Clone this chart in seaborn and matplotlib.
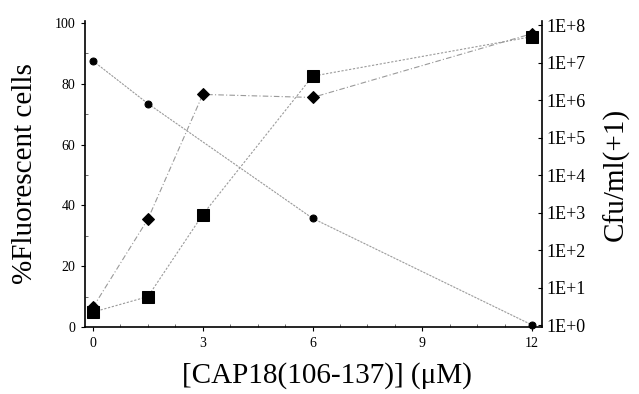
import matplotlib
matplotlib.use("Agg")
import matplotlib.pyplot as plt
import seaborn as sns
import pandas as pd
import numpy as np
from matplotlib.ticker import FixedLocator, MultipleLocator, LogLocator, NullFormatter

sns.set_theme(style="ticks")
plt.rcParams['font.family'] = ['Liberation Serif', 'DejaVu Serif']
plt.rcParams['text.color'] = 'black'
plt.rcParams['axes.labelcolor'] = 'black'

conc = [0, 1.5, 3, 6, 12]
diamond_pct = [6.5, 35.5, 76.5, 75.5, 96.5]
square_pct = [4.9, 10.0, 37.0, 82.5, 95.5]
cfu_conc = [0, 1.5, 6, 12]
cfu = [1.1e7, 8.0e5, 7.0e2, 1.0]

x_ticks = [0, 3, 6, 9, 12]
left_ticks = [0, 20, 40, 60, 80, 100]
right_ticks = [1e0, 1e1, 1e2, 1e3, 1e4, 1e5, 1e6, 1e7, 1e8]
right_labels = ["1E+0", "1E+1", "1E+2", "1E+3", "1E+4", "1E+5", "1E+6", "1E+7", "1E+8"]

df_d = pd.DataFrame({"x": conc, "y": diamond_pct})
df_s = pd.DataFrame({"x": conc, "y": square_pct})
df_c = pd.DataFrame({"x": cfu_conc, "y": cfu})

fig = plt.figure(figsize=(6.39, 3.94), dpi=100)
ax = fig.add_axes([85/639, 1-327/394, (542-85)/639, (327-21)/394])
ax2 = ax.twinx()

line_col = "#9a9a9a"
sns.lineplot(data=df_d, x="x", y="y", ax=ax, color=line_col, lw=0.8,
             linestyle=(0, (5, 2, 1, 2)), marker="D", markersize=6,
             markerfacecolor="black", markeredgecolor="black", clip_on=False)
sns.lineplot(data=df_s, x="x", y="y", ax=ax, color=line_col, lw=0.8,
             linestyle=(0, (2, 1.5)), marker="s", markersize=8,
             markerfacecolor="black", markeredgecolor="black", clip_on=False)
sns.lineplot(data=df_c, x="x", y="y", ax=ax2, color=line_col, lw=0.8,
             linestyle=(0, (2, 1)), marker="o", markersize=5,
             markerfacecolor="black", markeredgecolor="black", clip_on=False)

ax.set_xlim(-0.22, 12.27)
ax.set_ylim(0, 100.65)
ax2.set_yscale("log")
ax2.set_ylim(10**(-0.053), 10**(8.107))

ax.xaxis.set_major_locator(FixedLocator(x_ticks))
ax.xaxis.set_minor_locator(MultipleLocator(0.75))
ax.yaxis.set_major_locator(FixedLocator(left_ticks))
ax.yaxis.set_minor_locator(MultipleLocator(10))
ax.set_xticklabels([str(t) for t in x_ticks])
ax.set_yticklabels([str(t) for t in left_ticks])

ax2.yaxis.set_major_locator(FixedLocator(right_ticks))
ax2.yaxis.set_minor_locator(LogLocator(base=10, subs=np.arange(2, 10)))
ax2.yaxis.set_minor_formatter(NullFormatter())
ax2.set_yticklabels(right_labels)

ax.spines["top"].set_visible(False)
ax2.spines["top"].set_visible(False)
ax2.spines["left"].set_visible(False)
ax2.spines["bottom"].set_visible(False)
for sp in ["left", "bottom"]:
    ax.spines[sp].set_linewidth(1.2)
    ax.spines[sp].set_color("black")
ax.spines["right"].set_visible(False)
ax2.spines["right"].set_linewidth(1.2)
ax2.spines["right"].set_color("black")

ax.tick_params(axis="both", which="major", direction="out", length=3, width=0.8,
               labelsize=10, colors="black", pad=4)
ax.tick_params(axis="both", which="minor", direction="in", length=2, width=0.6, colors="#555555")
ax2.tick_params(axis="y", which="major", direction="in", length=3, width=0.8,
                labelsize=13, colors="black", pad=3)
ax2.tick_params(axis="y", which="minor", direction="in", length=1.5, width=0.5, colors="#555555")

ax.set_xlabel("[CAP18(106-137)] (μM)", fontsize=21, labelpad=7)
ax.xaxis.set_label_coords(0.53, -0.115)
ax.set_ylabel("%Fluorescent cells", fontsize=21, labelpad=12)
ax2.set_ylabel("Cfu/ml(+1)", fontsize=21, labelpad=12)
ax.grid(False)
ax2.grid(False)

fig.savefig("out.png", dpi=100)
